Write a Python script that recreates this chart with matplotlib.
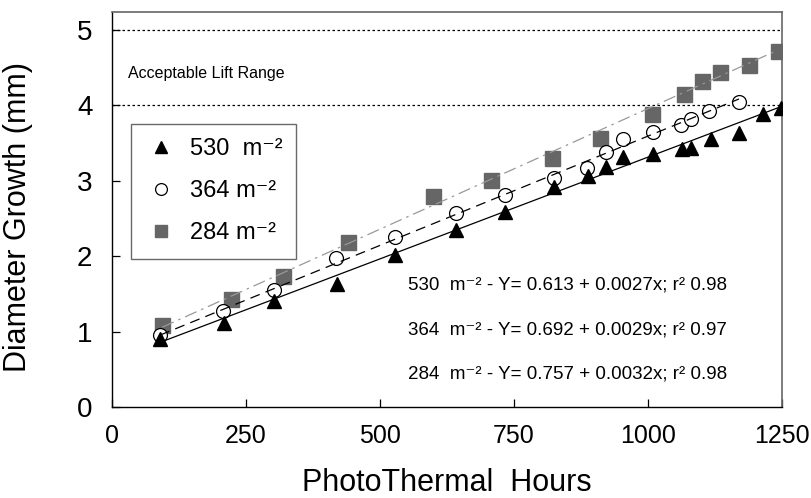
import numpy as np
import matplotlib
matplotlib.use('Agg')
import matplotlib.pyplot as plt

plt.rcParams['font.family'] = ['Liberation Sans', 'DejaVu Sans']

# data
ph_530 = [90, 209, 302, 420, 529, 642, 733, 825, 889, 922, 954, 1010, 1063, 1081, 1117, 1170, 1214, 1248]
d_530 = [0.90, 1.11, 1.41, 1.63, 2.01, 2.35, 2.59, 2.92, 3.06, 3.18, 3.32, 3.36, 3.42, 3.44, 3.56, 3.63, 3.88, 3.97]

ph_364 = [90, 208, 302, 419, 529, 642, 733, 825, 886, 922, 954, 1010, 1061, 1080, 1114, 1170]
d_364 = [0.96, 1.27, 1.55, 1.97, 2.25, 2.57, 2.81, 3.04, 3.17, 3.38, 3.55, 3.65, 3.74, 3.82, 3.92, 4.04]

ph_284 = [94, 222, 320, 440, 600, 708, 822, 911, 1007, 1067, 1102, 1134, 1188, 1243]
d_284 = [1.08, 1.43, 1.74, 2.19, 2.80, 3.01, 3.30, 3.57, 3.89, 4.15, 4.33, 4.44, 4.54, 4.72]

densidades = ['530', '364', '284']
intercepto = [0.613, 0.692, 0.757]
pendiente = [0.0027, 0.0029, 0.0032]
r2 = ['0.98', '0.97', '0.98']

lift_range = [4, 5]
xticks = [0, 250, 500, 750, 1000, 1250]
yticks = [0, 1, 2, 3, 4, 5]

sup = '\u207b\u00b2'  # superindice -2

fig = plt.figure(figsize=(8.11, 4.98), dpi=100)
ax = fig.add_axes([0.138, 0.183, 0.826, 0.793])

# puntos
ax.plot(ph_284, d_284, 's', ms=10.8, color='#666666', mec='#666666', zorder=3,
        label=densidades[2] + ' m' + sup)
ax.plot(ph_364, d_364, 'o', ms=10, mfc='white', mec='black', mew=0.9, zorder=3,
        label=densidades[1] + ' m' + sup)
ax.plot(ph_530, d_530, '^', ms=10, color='black', zorder=4,
        label=densidades[0] + '  m' + sup)

# rectas de regresion
estilos = [('-', 'black', None), ('--', 'black', (8, 5)), ('-.', '#999999', (10, 4, 2, 4))]
series_x = [ph_530, ph_364, ph_284]
for i in range(3):
    xs = np.array([min(series_x[i]), max(series_x[i])])
    ys = intercepto[i] + pendiente[i] * xs
    ls, col, dash = estilos[i]
    line, = ax.plot(xs, ys, ls, color=col, lw=0.9, zorder=5)
    if dash is not None:
        line.set_dashes(dash)

for y in lift_range:
    ax.axhline(y, color='black', lw=0.9, ls=(0, (2, 2)), zorder=1)

ax.set_xlim(0, 1250)
ax.set_ylim(0, 5.24)
ax.set_xticks(xticks)
ax.set_yticks(yticks)
ax.tick_params(axis='x', direction='in', length=6, width=0.9, labelsize=18, pad=12)
ax.tick_params(axis='y', direction='in', length=6, width=0.9, labelsize=20, pad=14)
for s in ['top', 'right']:
    ax.spines[s].set_color('#666666')
    ax.spines[s].set_linewidth(1.2)
for s in ['left', 'bottom']:
    ax.spines[s].set_linewidth(1.0)

ax.set_xlabel('PhotoThermal  Hours', fontsize=22, va='top')
ax.set_ylabel('Diameter Growth (mm)', fontsize=22)
ax.xaxis.set_label_coords(0.5, -0.155)
ax.yaxis.set_label_coords(-0.118, 0.48)

ax.text(30, 4.42, 'Acceptable Lift Range', fontsize=11.5, va='center')

ys_txt = [1.62, 1.02, 0.44]
for i in range(3):
    txt = '%s  m%s - Y= %.3f + %.4fx; r\u00b2 %s' % (densidades[i], sup, intercepto[i], pendiente[i], r2[i])
    ax.text(552, ys_txt[i], txt, fontsize=13.5, va='center')

handles, labels = ax.get_legend_handles_labels()
leg = ax.legend(handles[::-1], labels[::-1], loc='upper left', bbox_to_anchor=(0.028, 0.716),
                borderaxespad=0, fontsize=17, frameon=True, fancybox=False,
                labelspacing=0.85, handletextpad=0.5, handlelength=1.4, borderpad=0.6,
                markerscale=0.85)
leg.get_frame().set_edgecolor('#444444')
leg.get_frame().set_linewidth(1.0)

fig.savefig('out.png', dpi=100)
